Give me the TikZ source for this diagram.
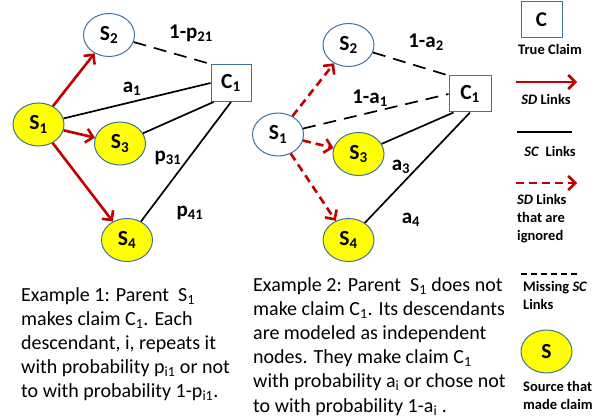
\documentclass[tikz,border=0pt]{standalone}
\usepackage{fontspec}
\setmainfont{Carlito}
\usetikzlibrary{shapes.geometric,arrows.meta}
\definecolor{nodeblue}{RGB}{65,113,156}
\definecolor{darkred}{RGB}{192,0,0}
\definecolor{yel}{RGB}{255,255,0}
\newcommand\sbs[1]{\textsubscript{#1}}
\begin{document}
\begin{tikzpicture}[x=1pt,y=-1pt,
  src/.style={ellipse,draw=nodeblue,line width=1pt,inner sep=0pt,minimum width=51pt,minimum height=43pt,font=\fontsize{21.5}{24}\selectfont\bfseries},
  made/.style={src,fill=yel},
  nomade/.style={src,fill=white},
  claim/.style={rectangle,draw=nodeblue,line width=1pt,fill=white,inner sep=0pt,minimum width=40pt,minimum height=37pt,font=\fontsize{21.5}{24}\selectfont\bfseries},
  sd/.style={draw=darkred,line width=2.6pt,-{Straight Barb[length=7pt,width=14pt,line width=2.6pt]}},
  sdign/.style={sd,dash pattern=on 8pt off 5pt},
  sc/.style={draw=black,line width=1.7pt},
  miss/.style={sc,dash pattern=on 13pt off 8pt},
  lab/.style={font=\fontsize{21}{24}\selectfont\bfseries,inner sep=0pt},
  legtxt/.style={font=\fontsize{14.5}{18}\selectfont\bfseries,inner sep=0pt,align=left},
  body/.style={font=\fontsize{20}{24.2}\selectfont,inner sep=0pt,align=left,anchor=north west}
]
\useasboundingbox (0,0) rectangle (615,419);
% ---------- Example 1 ----------
\node[nomade] (aS2) at (109,35) {S\sbs{2}};
\node[claim] (aC1) at (231,83) {C\sbs{1}};
\node[made] (aS1) at (38.5,124.5) {S\sbs{1}};
\node[made] (aS3) at (120,143.5) {S\sbs{3}};
\node[made] (aS4) at (127,240) {S\sbs{4}};
\draw[sd] (aS1) -- (aS2);
\draw[sd] (aS1) -- (aS3);
\draw[sd] (aS1) -- (aS4);
\draw[miss] (aS2) -- (aC1.north west);
\draw[sc] (aS1) -- (aC1.west);
\draw[sc] (aS3) -- ([xshift=3pt]aC1.south west);
\draw[sc] (aS4) -- (aC1.south);
\node[lab] (la1) at (191,33) {1-p\sbs{21}};
\node[lab] (la2) at (132,89) {a\sbs{1}};
\node[lab] (la3) at (168,158) {p\sbs{31}};
\node[lab] (la4) at (190,213) {p\sbs{41}};
% ---------- Example 2 ----------
\node[nomade] (bS2) at (348.5,45) {S\sbs{2}};
\node[claim,minimum width=42pt,minimum height=36pt] (bC1) at (470,94) {C\sbs{1}};
\node[nomade] (bS1) at (278,134.5) {S\sbs{1}};
\node[made] (bS3) at (358.5,154) {S\sbs{3}};
\node[made] (bS4) at (348.5,240) {S\sbs{4}};
\draw[sdign] (bS1) -- (bS2);
\draw[sdign] (bS1) -- (bS3);
\draw[sdign] (bS1) -- (bS4);
\draw[miss] (bS2) -- (bC1.north west);
\draw[miss] (bS1) -- (bC1.west);
\draw[sc] (bS3) -- ([xshift=5pt]bC1.south west);
\draw[sc] (bS4) -- (bC1.south);
\node[lab] (lb1) at (426,42) {1-a\sbs{2}};
\node[lab] (lb2) at (370,98) {1-a\sbs{1}};
\node[lab] (lb3) at (401,167) {a\sbs{3}};
\node[lab] (lb4) at (411,220) {a\sbs{4}};
% ---------- captions ----------
\node[body] (cap1) at (21,287) {Example 1: Parent\ \ S\sbs{1}\\makes claim C\sbs{1}. Each\\descendant, i, repeats it\\with probability p\sbs{i1} or not\\to with probability 1-p\sbs{i1}.};
\node[body] (cap2) at (253,277) {Example 2: Parent\ \ S\sbs{1} does not\\make claim C\sbs{1}. Its descendants\\are modeled as independent\\nodes. They make claim C\sbs{1}\\with probability a\sbs{i} or chose not\\to with probability 1-a\sbs{i} .};
% ---------- legend ----------
\node[claim,minimum width=41pt,minimum height=36pt,font=\fontsize{21}{24}\selectfont\bfseries] (lgC) at (541.5,20) {C};
\node[legtxt] (lgCt) at (550,49) {True Claim};
\coordinate (sdA) at (516,82);
\coordinate (sdB) at (577,82);
\draw[sd] (sdA) -- (sdB);
\node[legtxt] (lgSD) at (546,99) {\textit{SD} Links};
\coordinate (scA) at (517,132);
\coordinate (scB) at (572,132);
\draw[sc] (scA) -- (scB);
\node[legtxt] (lgSC) at (550,151) {\textit{SC}\ \ Links};
\coordinate (siA) at (516,183);
\coordinate (siB) at (577,183);
\draw[sdign] (siA) -- (siB);
\node[legtxt,anchor=north west] (lgSI) at (517,194) {\textit{SD} Links\\that are\\ignored};
\coordinate (msA) at (521,274);
\coordinate (msB) at (577,274);
\draw[sc,line width=1.4pt,dash pattern=on 6pt off 4pt] (msA) -- (msB);
\node[legtxt,anchor=north west] (lgMS) at (523,281) {Missing \textit{SC}\\Links};
\node[made,minimum width=51pt,minimum height=43pt] (lgS) at (546.5,351.5) {S};
\node[legtxt,anchor=north west] (lgSrc) at (523,381) {Source that\\made claim};
\end{tikzpicture}
\end{document}
